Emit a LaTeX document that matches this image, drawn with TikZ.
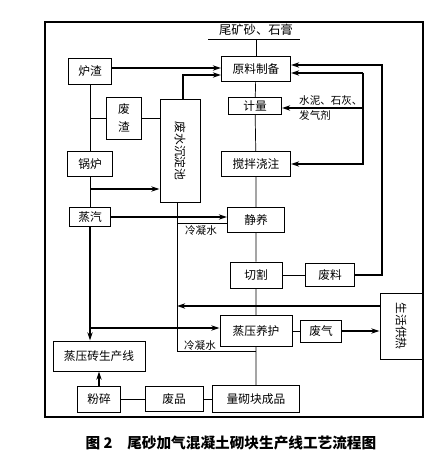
\documentclass[tikz,border=0pt]{standalone}
\usepackage{fontspec}
\setmainfont{Noto Sans CJK SC}
\usepackage{tikz}
\usetikzlibrary{positioning}
\usetikzlibrary{arrows.meta}
\tikzset{%
  bx/.style 2 args = {rectangle,draw,line width=0.8pt,inner sep=0pt,
        minimum width=#1*0.03cm,minimum height=#2*0.03cm,
        font=\fontsize{10}{12}\selectfont},
  ln/.style = {line width=0.6pt},
  fat/.style = {-{Stealth[length=7pt,width=4.5pt]},line width=1.2pt},
  lbl/.style = {inner sep=0pt,font=\fontsize{9}{11}\selectfont}
}

\begin{document}
\begin{tikzpicture}[x=0.03cm,y=-0.03cm]
  \useasboundingbox (0,0) rectangle (446,461);
  \draw[line width=1pt] (45,22) rectangle (423,417);
  % main line
  \node[lbl,font=\fontsize{10.5}{12}\selectfont] (src) at (256,30) {尾矿砂、石膏};
  \coordinate (ul0) at (208,39);
  \coordinate (ul1) at (300,39);
  \node[bx={69}{25}] (yl) at (256,69) {原料制备};
  \node[bx={53}{17}] (jl) at (255,106) {计量};
  \node[bx={69}{25}] (jb) at (256,164) {搅拌浇注};
  \node[bx={57}{25}] (js) at (256,220) {静养};
  \node[bx={52}{26}] (qg) at (256,275) {切割};
  \node[bx={72}{31}] (zy) at (256,331) {蒸压养护};
  \node[bx={87}{27}] (cp) at (256,399) {量砌块成品};
  % left side
  \node[bx={43}{26}] (lz) at (90,71) {炉渣};
  \node[bx={35}{42},align=center] (fz) at (124,118) {废\\[3pt]渣};
  \node[bx={40}{103}] (cd) at (180,151) {\rotatebox{-90}{废水沉淀池}};
  \node[bx={45}{25}] (gl) at (90,164) {锅炉};
  \node[bx={41}{19}] (zq) at (90,217) {蒸汽};
  \node[bx={92}{30}] (zz) at (99,356) {蒸压砖生产线};
  \node[bx={43}{26}] (fs) at (99,399) {粉碎};
  \node[bx={58}{25}] (fp) at (174,399) {废品};
  % right side
  \node[bx={49}{23}] (fl) at (330,275) {废料};
  \node[bx={41}{22}] (fq) at (321,331) {废气};
  \node[bx={42}{66}] (sh) at (401,326) {\rotatebox{-90}{生活供热}};
  \node[lbl,anchor=south west] (add1) at (299,106) {水泥、石灰、};
  \node[lbl,anchor=north west] (add2) at (299,110) {发气剂};
  \node[lbl] (lw1) at (201,230) {冷凝水};
  \node[lbl] (lw2) at (200,345) {冷凝水};
  \node[font=\fontsize{12.5}{14}\selectfont\bfseries] (cap) at (231,443)
       {图 2\quad 尾砂加气混凝土砌块生产线工艺流程图};

  \coordinate (a1) at (0,68);
  \coordinate (c1) at (183,75);
  \coordinate (r1) at (382,65);
  \coordinate (r2) at (363,73);
  \coordinate (r3) at (363,108);
  \coordinate (r4) at (363,164);
  \coordinate (k2) at (90,189);
  \coordinate (k3) at (90,328);
  \coordinate (w1) at (177,351);
  \coordinate (w2) at (177,223);
  \coordinate (h1) at (177,306);

  \draw[ln] (ul0) -- (ul1);
  \draw[ln] (yl.north |- ul0) -- (yl.north);
  \draw[ln] (yl) -- (jl) -- (jb) -- (js) -- (qg) -- (zy) -- (cp);
  \draw[ln] (qg) -- (fl);
  \draw[ln] (zy) -- (fq);
  \draw[ln] (fs) -- (fp) -- (cp);
  \draw[ln] (lz) -- (gl) -- (zq);
  \draw[ln] (lz.south |- fz.west) -- (fz.west);
  \draw[ln] (fz.east) -- (fz.east -| cd.west);
  \draw[ln] (cd.south -| w1) -- (w1) -- (w1 -| cp.north);
  \draw[ln] (w2) -- (w2 -| js.west);

  \draw[fat] (lz.east |- a1) -- (yl.west |- a1);
  \draw[fat] (cd.north -| c1) -- (c1) -- (c1 -| yl.west);
  \draw[fat] (fl.east) -- (fl.east -| r1) -- (r1) -- (r1 -| yl.east);
  \draw[fat] (r2) -- (r2 -| yl.east);
  \draw[fat] (r3) -- (r3 -| jl.east);
  \draw[fat] (r2) -- (r4) -- (r4 -| jb.east);
  \draw[fat] (k2) -- (k2 -| cd.west);
  \draw[fat] (zq.east) -- (zq.east -| js.west);
  \draw[fat] (zq.south) -- (zq.south |- zz.north);
  \draw[fat] (k3) -- (k3 -| zy.west);
  \draw[fat] (fs.north) -- (fs.north |- zz.south);
  \draw[fat] (h1 -| sh.west) -- (h1);
  \draw[fat] (fq.east) -- (fq.east -| sh.west);
\end{tikzpicture}
\end{document}
